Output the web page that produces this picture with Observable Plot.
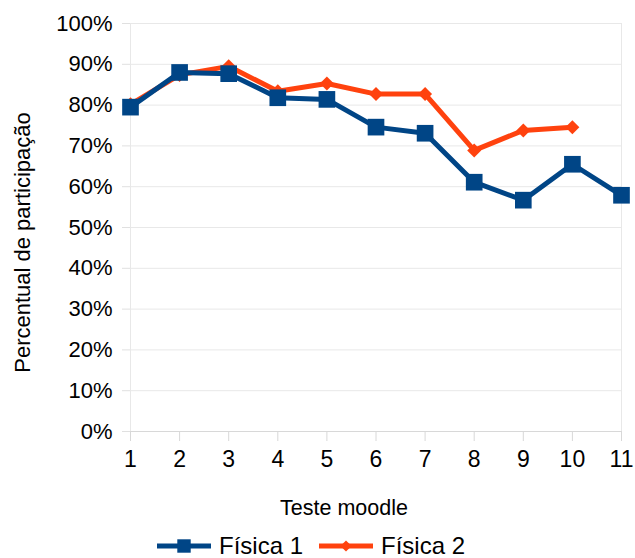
<!DOCTYPE html>
<html>
<head>
<meta charset="utf-8">
<script src="https://cdn.jsdelivr.net/npm/d3@7"></script>
<script src="https://cdn.jsdelivr.net/npm/@observablehq/plot@0.6"></script>
<style>
  html, body { margin: 0; padding: 0; background: #fff; }
  body { width: 635px; height: 558px; overflow: hidden; font-family: "Liberation Sans", Arial, sans-serif; }
  #chart svg { display: block; }
  #legend { display: flex; justify-content: flex-start; align-items: center; height: 24px; line-height: 24px; font-size: 24px; color: #000; padding-left: 157px; }
  .item { display: flex; align-items: center; margin-right: 16px; height: 24px; }
  .item span { line-height: 24px; }
  .item svg { margin-right: 8px; display: block; }
</style>
</head>
<body>
<div id="chart"></div>
<div id="legend"></div>
<script>
const tests = [1, 2, 3, 4, 5, 6, 7, 8, 9, 10, 11];
const fisica1 = [0.795, 0.880, 0.877, 0.818, 0.814, 0.746, 0.731, 0.611, 0.567, 0.655, 0.579];
const fisica2 = [0.802, 0.874, 0.895, 0.834, 0.853, 0.827, 0.827, 0.689, 0.738, 0.746];
const yTicks = [0, 0.1, 0.2, 0.3, 0.4, 0.5, 0.6, 0.7, 0.8, 0.9, 1.0];
const seriesNames = ["Física 1", "Física 2"];
const yLabel = "Percentual de participação";
const xLabel = "Teste moodle";
const colors = ["#004586", "#ff420e"];

const d1 = tests.map((t, i) => ({teste: t, v: fisica1[i]}));
const d2 = fisica2.map((v, i) => ({teste: tests[i], v}));

const plot = Plot.plot({
  width: 635,
  height: 534,
  marginLeft: 130,
  marginRight: 14,
  marginTop: 23,
  marginBottom: 103,
  style: {fontFamily: "Liberation Sans, Arial, sans-serif", color: "#000", background: "#fff"},
  x: {domain: [1, 11]},
  y: {domain: [0, 1]},
  marks: [
    Plot.frame({stroke: "#e8e8e8"}),
    Plot.gridY(yTicks, {stroke: "#e8e8e8", strokeOpacity: 1}),
    Plot.axisY(yTicks, {
      tickFormat: d => Math.round(d * 100) + "%",
      tickSize: 8, tickPadding: 10, stroke: "#e0e0e0", fontSize: 22,
      label: null
    }),
    Plot.axisX(tests, {
      tickSize: 10, tickPadding: 9, stroke: "#d8d8d8", fontSize: 23,
      label: null
    }),
    Plot.text([yLabel], {text: d => d, frameAnchor: "left", textAnchor: "middle", rotate: -90, dx: -108, dy: 15, fontSize: 22, fill: "#000"}),
    Plot.text([xLabel], {text: d => d, frameAnchor: "bottom", dx: -32, dy: 83, fontSize: 21.5, fill: "#000"}),
    Plot.ruleY([0], {stroke: "#d8d8d8"}),
    Plot.line(d2, {x: "teste", y: "v", stroke: colors[1], strokeWidth: 5, strokeLinejoin: "miter"}),
    Plot.dot(d2, {x: "teste", y: "v", symbol: "diamond2", r: 6.3, fill: colors[1], stroke: "none"}),
    Plot.line(d1, {x: "teste", y: "v", stroke: colors[0], strokeWidth: 5, strokeLinejoin: "miter"}),
    Plot.dot(d1, {x: "teste", y: "v", symbol: "square", r: 9.4, fill: colors[0], stroke: "none"})
  ]
});
document.getElementById("chart").appendChild(plot);

const legend = d3.select("#legend");
seriesNames.forEach((name, i) => {
  const item = legend.append("div").attr("class", "item");
  const svg = item.append("svg").attr("width", 54).attr("height", 22);
  svg.append("line").attr("x1", 0).attr("x2", 54).attr("y1", 11).attr("y2", 11)
    .attr("stroke", colors[i]).attr("stroke-width", 5);
  const sym = i === 0 ? d3.symbolSquare : d3.symbolDiamond2;
  const size = i === 0 ? 180 : 80;
  svg.append("path").attr("d", d3.symbol(sym, size)()).attr("transform", "translate(27,11)").attr("fill", colors[i]);
  item.append("span").text(name);
});
</script>
</body>
</html>
